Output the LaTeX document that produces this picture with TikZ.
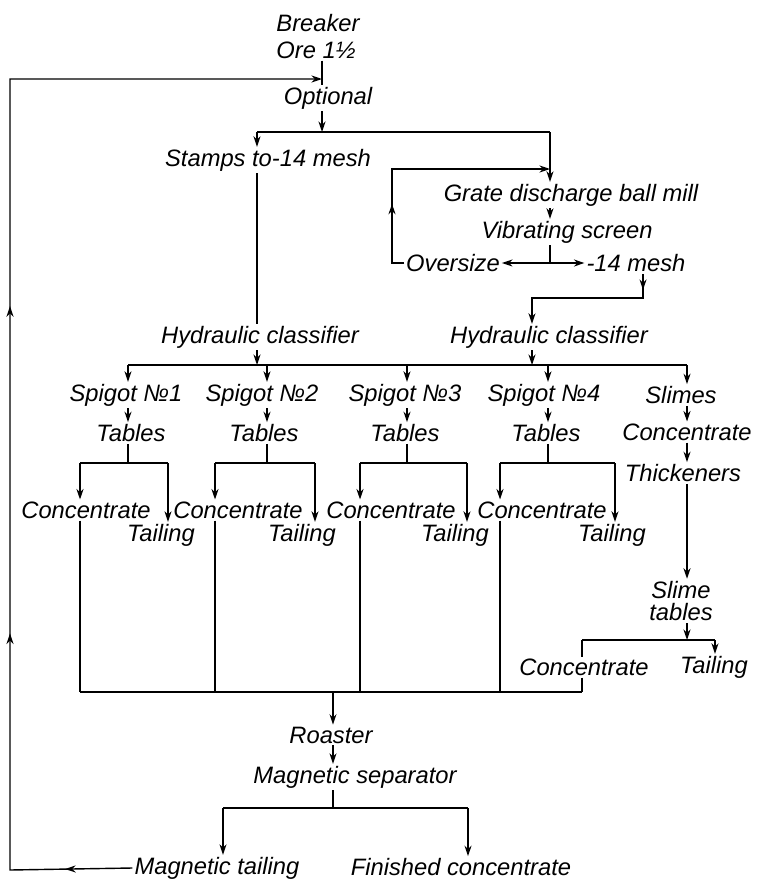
\documentclass[tikz,border=0pt]{standalone}
\usepackage{fontspec}
\setmainfont{Liberation Sans}
\usetikzlibrary{arrows.meta,positioning,calc,decorations.markings}

\newcommand{\flowfont}{\fontsize{13.5}{13}\selectfont\itshape}

\tikzset{
  lbl/.style={font=\flowfont, inner sep=1pt, align=center},
  flow/.style={line width=0.8pt},
  midarrow/.style={postaction={decorate, decoration={markings,
      mark=at position #1 with {\arrow{>}}}}},
}

\begin{document}
\begin{tikzpicture}[x=0.2mm, y=-0.2mm, >={Stealth[length=6pt,width=4pt]}]
  \useasboundingbox (0,0) rectangle (757,880);

  % feed and primary crushing
  \node[lbl] (breaker)  at (318,23)  {Breaker};
  \node[lbl] (ore)      at (316,50)  {Ore 1½};
  \node[lbl] (optional) at (328,98)  {Optional};
  \node[lbl] (stamps)   at (268,160) {Stamps to-14 mesh};
  \node[lbl] (grate)    at (571,195) {Grate discharge ball mill};
  \node[lbl] (screen)   at (567,232) {Vibrating screen};
  \node[lbl] (oversize) at (453,263) {Oversize};
  \node[lbl] (mesh)     at (636,263) {-14 mesh};

  % classifiers and spigots
  \node[lbl] (classl) at (260,337) {Hydraulic classifier};
  \node[lbl] (classr) at (549,337) {Hydraulic classifier};
  \node[lbl] (sp1)    at (126,395) {Spigot №1};
  \node[lbl] (sp2)    at (262,395) {Spigot №2};
  \node[lbl] (sp3)    at (405,395) {Spigot №3};
  \node[lbl] (sp4)    at (544,395) {Spigot №4};
  \node[lbl] (slimes) at (681,395) {Slimes};
  \node[lbl] (tab1)   at (131,433) {Tables};
  \node[lbl] (tab2)   at (264,433) {Tables};
  \node[lbl] (tab3)   at (405,433) {Tables};
  \node[lbl] (tab4)   at (546,433) {Tables};
  \node[lbl] (sconc)  at (687,432) {Concentrate};
  \node[lbl] (thick)  at (683,473) {Thickeners};
  \node[lbl] (slimetab) at (681,601) {Slime\\tables};

  % table products
  \node[lbl] (conc1) at (86,510)  {Concentrate};
  \node[lbl] (tail1) at (161,535) {Tailing};
  \node[lbl] (conc2) at (238,510) {Concentrate};
  \node[lbl] (tail2) at (302,535) {Tailing};
  \node[lbl] (conc3) at (391,510) {Concentrate};
  \node[lbl] (tail3) at (455,535) {Tailing};
  \node[lbl] (conc4) at (542,510) {Concentrate};
  \node[lbl] (tail4) at (612,535) {Tailing};
  \node[lbl] (conc5) at (584,667) {Concentrate};
  \node[lbl] (tail5) at (714,667) {Tailing};

  % roasting and magnetic separation
  \node[lbl] (roaster) at (331,735) {Roaster};
  \node[lbl] (magsep)  at (355,777) {Magnetic separator};
  \node[lbl] (magtail) at (217,868) {Magnetic tailing};
  \node[lbl] (fincon)  at (461,867) {Finished concentrate};

  % junctions
  \coordinate (jret)    at (322,79);
  \coordinate (jopt)    at (322,132);
  \coordinate (jstamp)  at (257,132);
  \coordinate (jmill)   at (550,132);
  \coordinate (jloop)   at (392,169);
  \coordinate (jmillin) at (550,169);
  \coordinate (jloopb)  at (392,263);
  \coordinate (jscreen) at (550,263);
  \coordinate (jmesh)   at (643,298);
  \coordinate (jclass)  at (532,298);
  \coordinate (barl) at (128,365);
  \coordinate (bar2) at (267,365);
  \coordinate (bar3) at (407,365);
  \coordinate (bar4) at (548,365);
  \coordinate (barr) at (687,365);
  \coordinate (jcl)  at (257,365);
  \coordinate (jcr)  at (532,365);
  \coordinate (cx1) at (80,463)  ; \coordinate (tx1) at (168,463);
  \coordinate (cx2) at (215,463) ; \coordinate (tx2) at (315,463);
  \coordinate (cx3) at (360,463) ; \coordinate (tx3) at (467,463);
  \coordinate (cx4) at (500,463) ; \coordinate (tx4) at (615,463);
  \coordinate (sjunc) at (687,640);
  \coordinate (sl) at (582,640);
  \coordinate (sr) at (715,640);
  \coordinate (bot1) at (80,692);
  \coordinate (bot5) at (582,692);
  \coordinate (broast) at (333,692);
  \coordinate (msplit) at (333,808);
  \coordinate (mtl) at (223,808);
  \coordinate (mtr) at (468,808);
  \coordinate (retbl) at (10,870);
  \coordinate (rettl) at (10,79);

  % top of flow
  \draw[flow] (ore.south -| jret) -- (optional.north -| jret);
  \draw[flow,->] (optional.south -| jret) -- (jopt);
  \draw[flow] (jstamp) -- (jmill);
  \draw[flow,->] (jstamp) -- (jstamp |- stamps.north);
  \draw[flow,->] (jmill) -- (jmill |- grate.north);
  \draw[flow] (jstamp |- stamps.south) -- (jstamp |- classl.north);
  \draw[flow,->] (jstamp |- classl.south) -- (jcl);

  % ball mill circuit
  \draw[flow,->] (jmill |- grate.south) -- (jmill |- screen.north);
  \draw[flow] (jmill |- screen.south) -- (jscreen);
  \draw[flow,->] (jscreen) -- (oversize.east);
  \draw[flow,->] (jscreen) -- (mesh.west);
  \draw[flow,->,midarrow=0.27] (oversize.west) -- (jloopb) -- (jloop) -- (jmillin);
  \draw[flow,->,midarrow=0.1] (jmesh |- mesh.south) -- (jmesh) -- (jclass)
    -- (jclass |- classr.north);
  \draw[flow,->] (jclass |- classr.south) -- (jcr);

  % distributor to spigots
  \draw[flow] (barl) -- (barr);
  \draw[flow,->] (barl) -- (barl |- sp1.north);
  \draw[flow,->] (bar2) -- (bar2 |- sp2.north);
  \draw[flow,->] (bar3) -- (bar3 |- sp3.north);
  \draw[flow,->] (bar4) -- (bar4 |- sp4.north);
  \draw[flow,->] (barr) -- (barr |- slimes.north);
  \draw[flow,->] (barl |- sp1.south) -- (barl |- tab1.north);
  \draw[flow,->] (bar2 |- sp2.south) -- (bar2 |- tab2.north);
  \draw[flow,->] (bar3 |- sp3.south) -- (bar3 |- tab3.north);
  \draw[flow,->] (bar4 |- sp4.south) -- (bar4 |- tab4.north);

  % tables
  \draw[flow] (barl |- tab1.south) -- (barl |- cx1);
  \draw[flow] (bar2 |- tab2.south) -- (bar2 |- cx2);
  \draw[flow] (bar3 |- tab3.south) -- (bar3 |- cx3);
  \draw[flow] (bar4 |- tab4.south) -- (bar4 |- cx4);
  \draw[flow] (cx1) -- (tx1);
  \draw[flow] (cx2) -- (tx2);
  \draw[flow] (cx3) -- (tx3);
  \draw[flow] (cx4) -- (tx4);
  \draw[flow,->] (cx1) -- (cx1 |- conc1.north);
  \draw[flow,->] (cx2) -- (cx2 |- conc2.north);
  \draw[flow,->] (cx3) -- (cx3 |- conc3.north);
  \draw[flow,->] (cx4) -- (cx4 |- conc4.north);
  \draw[flow,->] (tx1) -- (tx1 |- tail1.north);
  \draw[flow,->] (tx2) -- (tx2 |- tail2.north);
  \draw[flow,->] (tx3) -- (tx3 |- tail3.north);
  \draw[flow,->] (tx4) -- (tx4 |- tail4.north);

  % slimes
  \draw[flow,->] (barr |- slimes.south) -- (barr |- sconc.north);
  \draw[flow,->] (barr |- sconc.south) -- (barr |- thick.north);
  \draw[flow,->] (barr |- thick.south) -- (barr |- slimetab.north);
  \draw[flow,->] (barr |- slimetab.south) -- (sjunc);
  \draw[flow] (sl) -- (sr);
  \draw[flow] (sl) -- (sl |- conc5.north);
  \draw[flow,->] (sr) -- (sr |- tail5.north);

  % concentrates collected
  \draw[flow] (cx1 |- conc1.south) -- (bot1);
  \draw[flow] (cx2 |- conc2.south) -- (cx2 |- bot1);
  \draw[flow] (cx3 |- conc3.south) -- (cx3 |- bot1);
  \draw[flow] (cx4 |- conc4.south) -- (cx4 |- bot1);
  \draw[flow] (bot5 |- conc5.south) -- (bot5);
  \draw[flow] (bot1) -- (bot5);

  % roaster and magnetic separator
  \draw[flow,->] (broast) -- (broast |- roaster.north);
  \draw[flow,->] (broast |- roaster.south) -- (broast |- magsep.north);
  \draw[flow] (broast |- magsep.south) -- (msplit);
  \draw[flow] (mtl) -- (mtr);
  \draw[flow,->] (mtl) -- (mtl |- magtail.north);
  \draw[flow,->] (mtr) -- (mtr |- fincon.north);

  % magnetic tailing returned
  \draw[flow,->,midarrow=0.055,midarrow=0.293,midarrow=0.56]
    (magtail.west) -- (retbl) -- (rettl) -- (jret);
\end{tikzpicture}
\end{document}
